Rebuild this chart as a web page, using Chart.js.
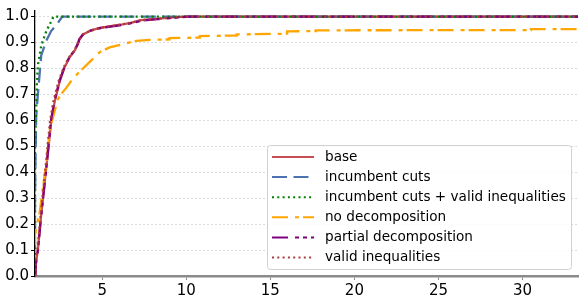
<!DOCTYPE html>
<html>
<head>
<meta charset="utf-8">
<script src="https://cdn.jsdelivr.net/npm/chart.js@4.4.1/dist/chart.umd.min.js"></script>
<style>
  html, body { margin: 0; padding: 0; background: #fff; }
</style>
</head>
<body>
<canvas id="profileChart" width="585" height="304"></canvas>
<script>
// Performance profile - fraction of instances vs. ratio to best
const seriesLabels = ['base', 'incumbent cuts', 'incumbent cuts + valid inequalities',
  'no decomposition', 'partial decomposition', 'valid inequalities'];

const baseX = [1, 1.05, 1.17, 1.31, 1.47, 1.64, 1.81, 1.97, 2.18, 2.47, 2.77, 3.07, 3.36, 3.55, 3.65, 3.85, 4.35, 4.85, 5.5, 6.2, 6.7, 7.3, 8.2, 9.2, 10.0, 33.3];
const baseY = [0, 0.05, 0.1, 0.2, 0.3, 0.4, 0.5, 0.6, 0.675, 0.75, 0.806, 0.844, 0.869, 0.894, 0.913, 0.931, 0.947, 0.956, 0.963, 0.97, 0.976, 0.986, 0.991, 0.997, 1.0, 1.0];

const cutsX = [1, 1, 1.03, 1.07, 1.17, 1.27, 1.37, 1.67, 1.96, 2.36, 2.56, 2.62, 33.3];
const cutsY = [0, 0.28, 0.45, 0.612, 0.7, 0.775, 0.85, 0.906, 0.944, 0.975, 0.994, 1.0, 1.0];

const cutsValidX = [1, 1, 1.07, 1.11, 1.17, 1.37, 1.67, 1.96, 2.1, 33.3];
const cutsValidY = [0, 0.5, 0.65, 0.737, 0.812, 0.887, 0.944, 0.981, 1.0, 1.0];

const noDecompX = [1, 1, 1.12, 1.27, 1.47, 1.71, 1.87, 2.07, 2.36, 2.6, 2.86, 3.26, 3.85, 4.35, 4.85, 5.44, 6.23, 7.02, 7.84, 9.0, 9.0, 10.8, 10.8, 13.0, 13.0, 16.0, 16.0, 17.7, 17.7, 30.5, 30.5, 33.3];
const noDecompY = [0, 0.16, 0.2, 0.24, 0.34, 0.45, 0.562, 0.612, 0.681, 0.705, 0.725, 0.762, 0.8, 0.831, 0.863, 0.881, 0.894, 0.906, 0.91, 0.912, 0.917, 0.919, 0.925, 0.927, 0.931, 0.934, 0.943, 0.944, 0.947, 0.948, 0.952, 0.952];

const partialX = [1, 1.06, 1.18, 1.32, 1.48, 1.65, 1.8, 1.95, 2.16, 2.45, 2.75, 3.05, 3.35, 3.54, 3.64, 3.86, 4.3, 4.9, 5.6, 6.3, 6.8, 7.4, 8.3, 9.4, 10.2, 33.3];
const partialY = [0, 0.05, 0.1, 0.2, 0.3, 0.4, 0.5, 0.6, 0.675, 0.75, 0.806, 0.844, 0.869, 0.894, 0.913, 0.931, 0.946, 0.956, 0.962, 0.969, 0.976, 0.985, 0.99, 0.996, 1.0, 1.0];

const validX = [1, 1.04, 1.15, 1.29, 1.44, 1.6, 1.75, 1.9, 2.1, 2.4, 2.72, 3.03, 3.34, 3.53, 3.64, 3.84, 4.33, 4.83, 5.5, 6.2, 6.7, 7.3, 8.2, 9.1, 9.9, 33.3];
const validY = [0, 0.05, 0.1, 0.2, 0.3, 0.4, 0.5, 0.6, 0.675, 0.75, 0.806, 0.844, 0.869, 0.894, 0.913, 0.931, 0.947, 0.956, 0.963, 0.97, 0.976, 0.986, 0.991, 0.997, 1.0, 1.0];

const xTicks = [5, 10, 15, 20, 25, 30];
const yTicks = [0, 0.1, 0.2, 0.3, 0.4, 0.5, 0.6, 0.7, 0.8, 0.9, 1.0];

const pts = (xs, ys) => xs.map((x, i) => ({ x: x, y: ys[i] }));

const styles = [
  { color: '#c44e52', dash: [] },
  { color: '#4c72b0', dash: [15, 6.5] },
  { color: '#008000', dash: [2, 3.3] },
  { color: '#ffa500', dash: [16, 7, 4, 4] },
  { color: '#800080', dash: [16, 7, 4, 4, 4, 4] },
  { color: '#b03a3a', dash: [2, 3.3] }
];
const seriesData = [pts(baseX, baseY), pts(cutsX, cutsY), pts(cutsValidX, cutsValidY),
  pts(noDecompX, noDecompY), pts(partialX, partialY), pts(validX, validY)];

const datasets = seriesLabels.map((label, i) => ({
  label: label,
  data: seriesData[i],
  borderColor: styles[i].color,
  borderDash: styles[i].dash,
  borderWidth: 2.3,
  pointRadius: 0,
  tension: 0,
  fill: false,
  order: seriesLabels.length - i  // later series on top, like matplotlib
}));

// legend box drawn inside the plot, lower right
const boxLegend = {
  id: 'boxLegend',
  afterDatasetsDraw(chart) {
    const ctx = chart.ctx;
    const x0 = 267.5, y0 = 145.5, w = 304, h = 124, r = 3;
    ctx.save();
    ctx.setLineDash([]);
    ctx.beginPath();
    ctx.moveTo(x0 + r, y0);
    ctx.arcTo(x0 + w, y0, x0 + w, y0 + h, r);
    ctx.arcTo(x0 + w, y0 + h, x0, y0 + h, r);
    ctx.arcTo(x0, y0 + h, x0, y0, r);
    ctx.arcTo(x0, y0, x0 + w, y0, r);
    ctx.closePath();
    ctx.fillStyle = 'rgba(255,255,255,0.85)';
    ctx.fill();
    ctx.strokeStyle = '#d0d0d0';
    ctx.lineWidth = 1;
    ctx.stroke();
    ctx.font = '13.6px "DejaVu Sans"';
    ctx.textBaseline = 'middle';
    chart.data.datasets.forEach((ds, i) => {
      const cy = 157 + i * 20.1;
      ctx.beginPath();
      ctx.setLineDash(ds.borderDash);
      ctx.strokeStyle = ds.borderColor;
      ctx.lineWidth = 2;
      ctx.moveTo(272, cy);
      ctx.lineTo(314, cy);
      ctx.stroke();
      ctx.setLineDash([]);
      ctx.fillStyle = '#000';
      ctx.fillText(ds.label, 325, cy);
    });
    ctx.restore();
  }
};

const ctx = document.getElementById('profileChart').getContext('2d');
new Chart(ctx, {
  type: 'line',
  data: { datasets: datasets },
  options: {
    responsive: false,
    animation: false,
    layout: { padding: { top: 6, right: 7, left: 0, bottom: 0 } },
    plugins: { legend: { display: false }, tooltip: { enabled: false } },
    scales: {
      x: {
        type: 'linear',
        min: 1,
        max: 33.3,
        afterBuildTicks: s => { s.ticks = xTicks.map(v => ({ value: v })); },
        afterFit: s => { s.height = 28; },
        grid: { drawOnChartArea: false, drawTicks: true, tickLength: 4, color: '#888', tickWidth: 1 },
        border: { display: true, color: '#8a8a8a', width: 2.5 },
        ticks: { color: '#000', padding: 2, maxRotation: 0, font: { family: 'DejaVu Sans', size: 15 },
          callback: v => String(v) }
      },
      y: {
        type: 'linear',
        min: 0,
        max: 1.0215,
        afterBuildTicks: s => { s.ticks = yTicks.map(v => ({ value: v })); },
        afterFit: s => { s.width = 35; },
        grid: { drawOnChartArea: true, drawTicks: true, tickLength: 4, color: 'rgba(170,170,170,0.7)',
          tickColor: '#000', lineWidth: 0.8, tickWidth: 1 },
        border: { display: true, color: '#000', width: 1.3, dash: [1.5, 2.5] },
        ticks: { color: '#000', padding: 2, font: { family: 'DejaVu Sans', size: 15 },
          callback: v => v.toFixed(1) }
      }
    }
  },
  plugins: [boxLegend]
});
</script>
</body>
</html>
